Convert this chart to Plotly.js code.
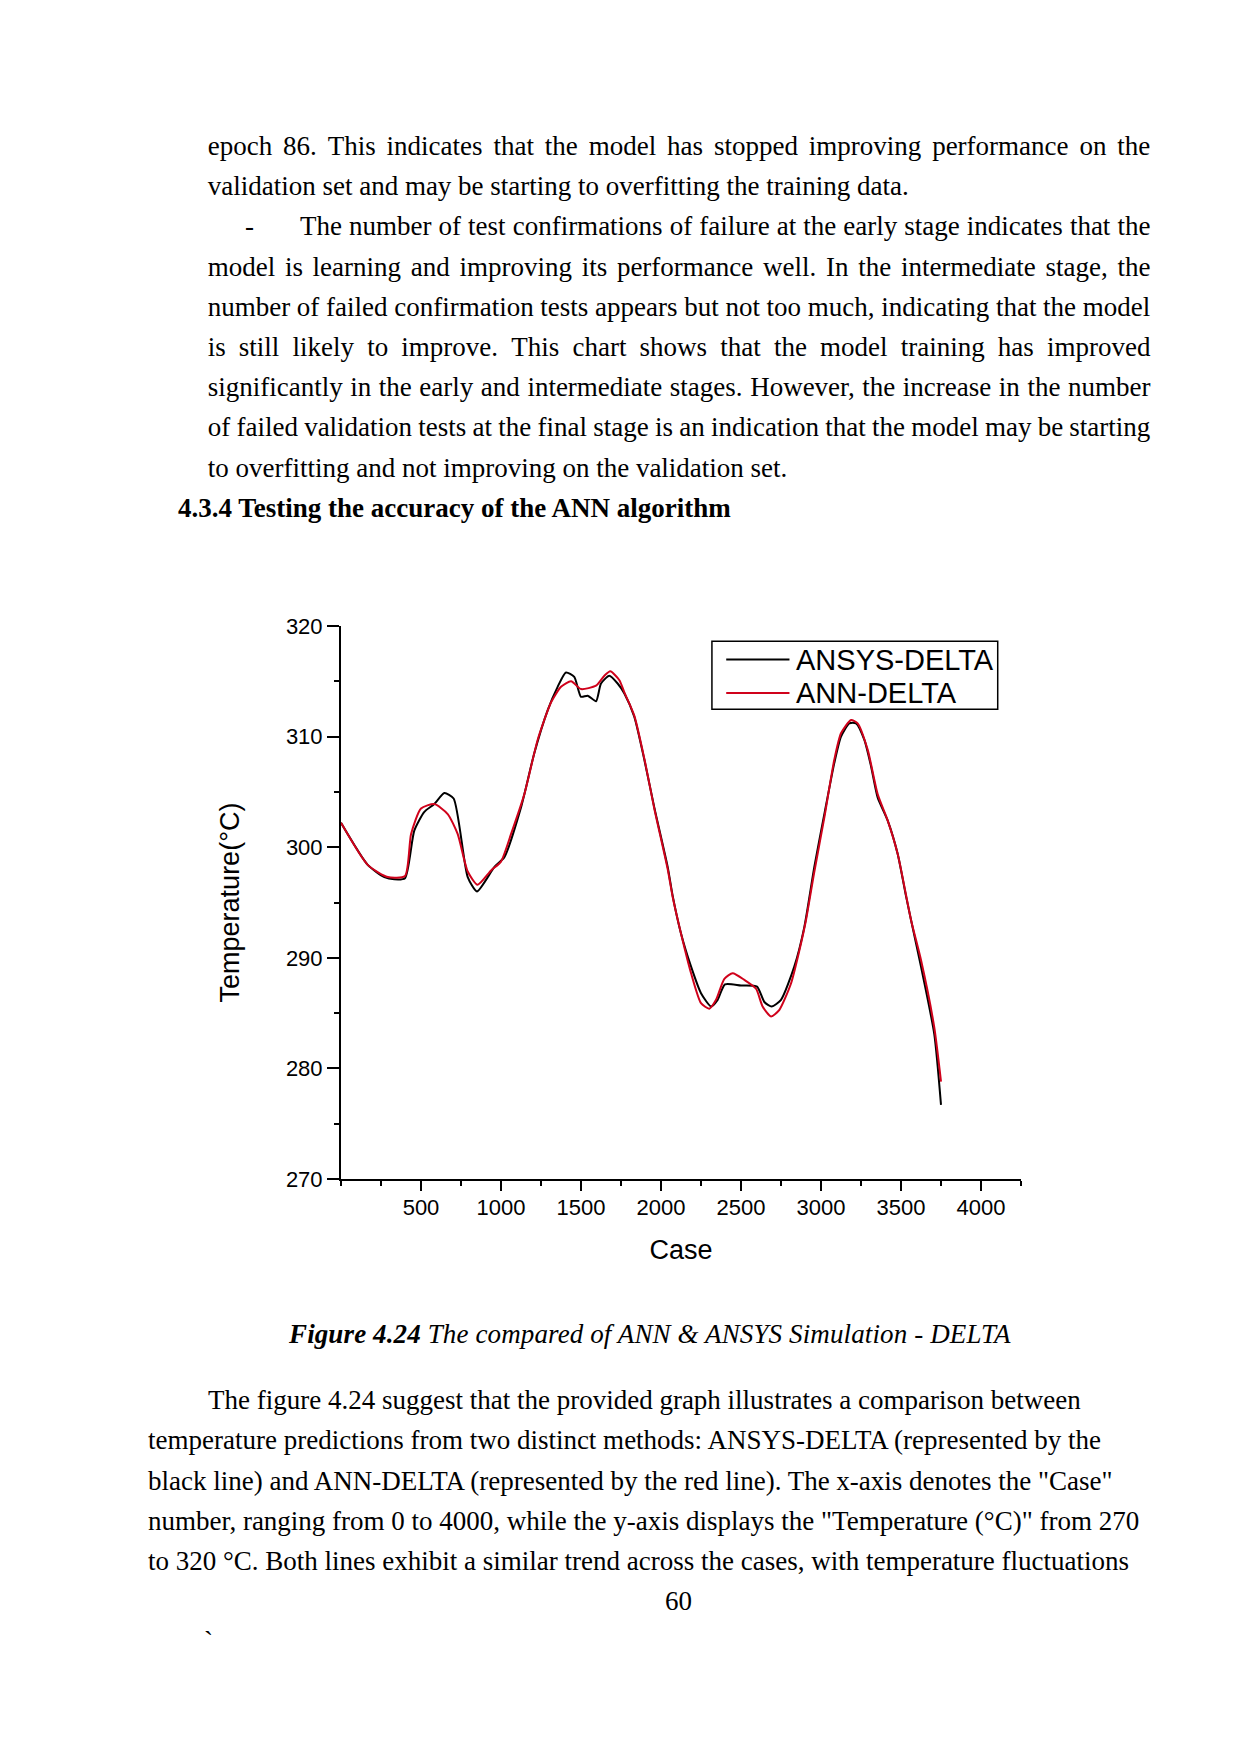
<!DOCTYPE html>
<html><head><meta charset="utf-8">
<script src="https://cdn.plot.ly/plotly-3.0.1.min.js"></script>
<style>
html,body{margin:0;padding:0;background:#fff;}
#page{position:relative;width:1240px;height:1754px;overflow:hidden;background:#fff;}
.ln{position:absolute;font-family:'Liberation Serif','Times New Roman',serif;font-size:27px;line-height:40px;height:40px;white-space:nowrap;color:#000;}
.just{display:flex;justify-content:space-between;}
#chart{position:absolute;left:0;top:540px;width:1240px;height:740px;}
</style></head>
<body><div id="page"><div id="chart"></div></div>
<script>
// ---- chart data ----
const caseAnsys = [0,167,271,333,400,458,521,583,646,704,792,850,958,1021,1125,1208,1292,1354,1406,1458,1500,1542,1594,1625,1677,1729,1771,1833,1896,1958,2042,2073,2125,2188,2250,2313,2354,2400,2500,2600,2646,2692,2750,2833,2896,2958,3021,3083,3125,3177,3219,3271,3313,3354,3417,3479,3531,3563,3625,3708,3750];
const tempAnsys = [302.2,298.4,297.3,297.1,297.2,301.5,303.2,303.9,304.9,304.4,297.3,296.0,298.2,299.1,303.6,308.5,312.4,314.5,315.8,315.4,313.6,313.7,313.2,314.8,315.5,314.8,313.9,311.8,307.9,303.6,298.2,295.6,292.2,289.2,286.8,285.6,286.2,287.6,287.5,287.4,286.0,285.6,286.2,289.2,292.8,298.2,303.0,307.6,310.0,311.2,311.2,309.7,307.3,304.5,302.4,299.4,295.6,293.4,289.2,283.1,276.7];
const caseAnn = [0,167,292,400,438,500,583,667,729,792,854,938,1000,1063,1146,1229,1313,1375,1438,1500,1594,1646,1683,1740,1771,1833,1896,1958,2042,2073,2125,2188,2250,2302,2344,2396,2448,2521,2594,2635,2688,2740,2813,2875,2906,2956,3021,3083,3125,3188,3229,3292,3354,3417,3479,3563,3625,3708,3750];
const tempAnn = [302.2,298.4,297.3,297.4,301.2,303.5,303.9,303.0,301.2,297.8,296.6,297.9,298.7,301.2,304.8,309.7,313.1,314.5,315.0,314.3,314.6,315.5,315.9,315.1,314.0,311.9,308.0,303.5,298.0,295.5,292.2,288.6,285.9,285.4,286.2,288.1,288.6,288.0,287.2,285.6,284.7,285.3,287.7,291.3,293.4,297.6,302.7,307.9,310.3,311.5,311.2,308.8,304.8,302.4,299.4,293.4,289.8,283.7,278.8];
const seriesNames = ['ANSYS-DELTA','ANN-DELTA'];
const seriesColors = ['#000000','#d0021b'];
const xTickVals = [500,1000,1500,2000,2500,3000,3500,4000];
const yTickVals = [270,280,290,300,310,320];
const xTitle = 'Case';
const yTitle = 'Temperature(°C)';

// ---- page text ----
const topLines = [
  'epoch 86. This indicates that the model has stopped improving performance on the',
  'validation set and may be starting to overfitting the training data.',
  'The number of test confirmations of failure at the early stage indicates that the',
  'model is learning and improving its performance well. In the intermediate stage, the',
  'number of failed confirmation tests appears but not too much, indicating that the model',
  'is still likely to improve. This chart shows that the model training has improved',
  'significantly in the early and intermediate stages. However, the increase in the number',
  'of failed validation tests at the final stage is an indication that the model may be starting',
  'to overfitting and not improving on the validation set.'
];
const heading = '4.3.4 Testing the accuracy of the ANN algorithm';
const captionBold = 'Figure 4.24';
const captionRest = ' The compared of ANN & ANSYS Simulation - DELTA';
const bottomLines = [
  'The figure 4.24 suggest that the provided graph illustrates a comparison between',
  'temperature predictions from two distinct methods: ANSYS-DELTA (represented by the',
  'black line) and ANN-DELTA (represented by the red line). The x-axis denotes the "Case"',
  'number, ranging from 0 to 4000, while the y-axis displays the "Temperature (°C)" from 270',
  'to 320 °C. Both lines exhibit a similar trend across the cases, with temperature fluctuations'
];
const pageNumber = '60';

const page = document.getElementById('page');
function addLine(text, left, baseline, opts) {
  opts = opts || {};
  const d = document.createElement('div');
  d.className = 'ln';
  d.style.left = left + 'px';
  d.style.top = (baseline - 29) + 'px';
  if (opts.width) {
    d.style.width = opts.width + 'px';
    d.classList.add('just');
    text.split(' ').forEach(w => { const s = document.createElement('span'); s.textContent = w; d.appendChild(s); });
  } else if (opts.html) {
    d.innerHTML = text;
  } else {
    d.textContent = text;
  }
  if (opts.bold) d.style.fontWeight = 'bold';
  if (opts.ls) d.style.letterSpacing = opts.ls + 'px';
  page.appendChild(d);
  return d;
}
const L0 = 207.7, R0 = 1150.5, step = 40.2;
const justified = [true,false,true,true,true,true,true,true,false];
topLines.forEach((t, i) => {
  const b = 155 + step * i;
  if (i === 2) {
    addLine('-', 245, b);
    addLine(t, 300, b, {width: R0 - 300});
  } else if (justified[i]) {
    addLine(t, L0, b, {width: R0 - L0});
  } else {
    addLine(t, L0, b);
  }
});
addLine(heading, 178, 516.7, {bold: true});
addLine('<b><i>' + captionBold + '</i></b><i>' + captionRest.replace('&','&amp;') + '</i>', 289, 1343.3, {html: true, ls: 0.12});
bottomLines.forEach((t, i) => addLine(t, i === 0 ? 208 : 148, 1409.3 + 40.15 * i));
addLine(pageNumber, 665, 1610);
addLine('`', 204, 1650);

// ---- chart ----
const plotL = 340.5, plotR = 1021, plotT = 625.7, plotB = 1178.7;
const px = v => (v - plotL) / (plotR - plotL);
const py = v => (plotB - v) / (plotB - plotT);

const traces = seriesNames.map((n, i) => ({
  x: i === 0 ? caseAnsys : caseAnn, y: i === 0 ? tempAnsys : tempAnn,
  name: n, type: 'scatter', mode: 'lines',
  line: {color: seriesColors[i], width: 2, shape: 'spline', smoothing: 0.6}
}));

// legend box drawn in paper coordinates
const legRows = [659.3, 692.7];
const shapes = [{type: 'rect', xref: 'paper', yref: 'paper', x0: px(711.7), x1: px(997.7), y0: py(709), y1: py(641),
  line: {color: '#000', width: 1.5}, fillcolor: 'rgba(255,255,255,0)'}];
const annotations = [];
seriesNames.forEach((n, i) => {
  shapes.push({type: 'line', xref: 'paper', yref: 'paper', x0: px(726), x1: px(789.3), y0: py(legRows[i]), y1: py(legRows[i]),
    line: {color: seriesColors[i], width: 2}});
  annotations.push({xref: 'paper', yref: 'paper', x: px(794), y: py(legRows[i]), xanchor: 'left', yanchor: 'middle',
    text: n, showarrow: false, font: {size: 29, color: '#000'}});
});

const axisCommon = {showline: true, linewidth: 2, linecolor: '#000', ticks: 'outside', tickwidth: 2,
  tickcolor: '#000', showgrid: false, zeroline: false, tickfont: {size: 22, color: '#000'}};
const layout = {
  width: 1240, height: 740,
  margin: {l: plotL, r: 1240 - plotR, t: plotT - 540, b: 1280 - plotB},
  paper_bgcolor: 'rgba(0,0,0,0)', plot_bgcolor: 'rgba(0,0,0,0)',
  font: {family: '"Liberation Sans", Arial, sans-serif', color: '#000'},
  showlegend: false,
  shapes: shapes, annotations: annotations,
  xaxis: Object.assign({}, axisCommon, {range: [0, 4250], tickmode: 'array', tickvals: xTickVals, ticklen: 10,
    ticklabelstandoff: -2,
    minor: {tick0: 0, dtick: 250, ticks: 'outside', ticklen: 5, tickwidth: 2, tickcolor: '#000', showgrid: false},
    title: {text: xTitle, font: {size: 27}, standoff: 21}}),
  yaxis: Object.assign({}, axisCommon, {range: [270, 320], tickmode: 'array', tickvals: yTickVals, ticklen: 12,
    minor: {tick0: 270, dtick: 5, ticks: 'outside', ticklen: 5, tickwidth: 2, tickcolor: '#000', showgrid: false},
    title: {text: yTitle, font: {size: 27}, standoff: 38}})
};
Plotly.newPlot('chart', traces, layout, {displayModeBar: false, staticPlot: true});
</script>
</body></html>
